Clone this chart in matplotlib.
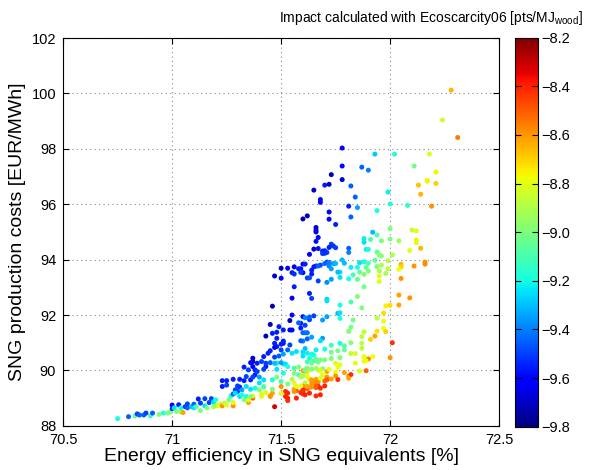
import matplotlib
matplotlib.use('Agg')
import matplotlib.pyplot as plt
from matplotlib.ticker import FuncFormatter
import numpy as np

plt.rcParams['font.family'] = ['Liberation Sans', 'DejaVu Sans']
plt.rcParams['mathtext.fontset'] = 'custom'
plt.rcParams['mathtext.rm'] = 'Liberation Sans'

# energy efficiency [%], SNG cost [EUR/MWh], impact [pts/MJ_wood]
eff = [72.28, 72.24, 72.31, 71.78, 71.93, 72.02, 72.18, 71.78, 71.87, 71.90,
       72.11, 72.21, 71.73, 71.78, 72.17, 71.70, 71.72, 71.82, 72.13, 72.17,
       72.21, 71.65, 71.84, 71.99, 72.14, 71.68, 71.68, 71.81, 71.85, 72.00,
       72.08, 72.19, 71.94, 71.72, 71.62, 71.60, 71.72, 71.82, 71.75, 71.66,
       71.66, 71.66, 71.67, 71.66, 71.92, 71.94, 71.88, 71.91, 71.96, 72.00,
       72.10, 72.12, 72.00, 72.04, 72.12, 72.12, 71.88, 71.73, 71.74, 71.72,
       71.65, 71.67, 71.75, 71.81, 71.94, 71.89, 71.90, 72.14, 72.09, 71.69,
       71.70, 71.71, 71.69, 71.70, 71.63, 71.81, 71.95, 71.96, 72.01, 71.93,
       71.99, 71.78, 72.16, 72.16, 72.11, 72.05, 72.05, 72.04, 72.05, 71.60,
       71.59, 71.60, 71.65, 71.66, 71.68, 71.71, 71.72, 71.74, 71.73, 71.64,
       71.64, 71.67, 71.73, 71.71, 71.63, 71.64, 71.71, 71.77, 71.77, 71.79,
       71.82, 71.85, 71.86, 71.88, 71.90, 71.89, 71.86, 71.83, 71.81, 71.88,
       71.90, 71.94, 71.95, 71.96, 71.98, 71.99, 71.95, 71.95, 71.85, 71.88,
       71.85, 72.04, 72.09, 71.71, 71.77, 71.82, 71.87, 71.98, 72.00, 72.04,
       71.97, 71.76, 71.77, 71.77, 71.94, 71.97, 71.97, 71.83, 71.60, 71.65,
       71.63, 71.69, 71.71, 71.59, 71.61, 71.59, 71.60, 71.61, 71.62, 71.82,
       71.81, 71.88, 71.94, 71.93, 71.91, 71.87, 72.01, 71.62, 71.60, 71.69,
       71.87, 71.82, 71.73, 71.77, 71.79, 71.76, 71.79, 71.70, 71.66, 71.61,
       71.60, 71.62, 71.64, 71.65, 71.60, 71.73, 71.87, 71.82, 71.84, 71.92,
       71.88, 71.90, 71.88, 71.89, 72.00, 71.77, 71.73, 71.68, 71.70, 71.65,
       71.67, 71.63, 71.62, 71.64, 71.75, 71.77, 71.76, 71.84, 71.69, 71.67,
       71.62, 71.61, 71.60, 71.62, 71.71, 71.75, 71.79, 71.86, 71.89, 71.60,
       71.69, 71.75, 71.81, 71.82, 71.81, 71.73, 71.76, 71.63, 71.64, 71.66,
       71.67, 71.70, 71.68, 71.65, 71.64, 71.61, 71.60, 71.62, 71.66, 71.67,
       71.60, 71.60, 71.60,
       70.75, 70.80, 70.83, 70.84, 70.85, 70.87, 70.88, 70.90, 70.91, 70.94,
       70.96, 70.98, 70.99, 71.00, 71.00, 71.01, 71.02, 71.03, 71.04, 71.05,
       71.04, 71.06, 71.07, 71.07, 71.09, 71.10, 71.10, 71.11, 71.12, 71.13,
       71.13, 71.15, 71.15, 71.16, 71.17, 71.18, 71.19, 71.19, 71.20, 71.20,
       71.21, 71.22, 71.23, 71.23, 71.25, 71.25, 71.23, 71.24, 71.25, 71.26,
       71.27, 71.28, 71.28, 71.28, 71.28, 71.29, 71.30, 71.31, 71.31, 71.32,
       71.33, 71.33, 71.34, 71.35, 71.35, 71.37, 71.37, 71.36, 71.36, 71.37,
       71.37, 71.38, 71.38, 71.39, 71.40, 71.40, 71.40, 71.41, 71.42, 71.42,
       71.43, 71.43, 71.43, 71.44, 71.45, 71.45, 71.46, 71.46, 71.46, 71.47,
       71.47, 71.48, 71.48, 71.48, 71.49, 71.50, 71.50, 71.51, 71.51, 71.52,
       71.52, 71.53, 71.53, 71.54, 71.54, 71.55, 71.55, 71.55, 71.56, 71.56,
       71.56, 71.57, 71.58,
       71.50, 71.53, 71.56, 71.58, 71.47, 71.50, 71.55, 71.56, 71.56,
       71.61, 71.59, 71.62, 71.63, 71.67, 71.70, 71.72, 71.75, 71.76,
       71.58, 71.61, 71.63, 71.55, 71.48, 71.48, 71.51, 71.59, 71.64, 71.68,
       71.51, 71.47, 71.54, 71.53, 71.50, 71.45, 71.47, 71.49, 71.51, 71.55,
       71.57, 71.66, 71.37, 71.36, 71.39, 71.41, 71.43, 71.45, 71.47, 71.50,
       71.52, 71.53, 71.56, 71.58, 71.61, 71.64, 71.66, 71.68, 71.72, 71.33,
       71.35, 71.42, 71.48, 71.51, 71.59, 71.62, 71.71, 71.71, 71.31, 71.34,
       71.37, 71.42, 71.46, 71.50, 71.53, 71.57, 71.59, 71.62, 71.64, 71.66,
       71.68, 71.70, 71.30, 71.34, 71.38, 71.42, 71.46, 71.50, 71.56, 71.59,
       71.61, 71.63, 71.66, 71.68, 71.29, 71.32, 71.36, 71.41, 71.45, 71.53,
       71.57, 71.98, 71.88]

cost = [100.12, 99.04, 98.41, 98.03, 97.81, 97.81, 97.81, 97.38, 97.34, 97.23,
        97.38, 97.16, 97.07, 96.89, 96.87, 96.69, 96.72, 96.66, 96.69, 96.83,
        96.75, 96.51, 96.26, 96.44, 96.36, 96.17, 96.07, 95.93, 95.88, 96.01,
        95.96, 95.93, 95.77, 95.72, 95.58, 95.47, 95.46, 95.54, 95.27, 95.16,
        95.06, 95.00, 94.80, 94.66, 94.99, 94.89, 94.76, 94.73, 94.68, 95.12,
        95.07, 95.04, 94.74, 94.68, 94.71, 94.61, 94.63, 94.56, 94.49, 94.44,
        94.38, 94.40, 94.43, 94.41, 94.27, 94.37, 94.37, 94.41, 94.33, 94.31,
        94.32, 94.26, 94.22, 94.23, 94.19, 94.26, 94.17, 94.13, 94.17, 93.98,
        93.96, 93.99, 93.91, 93.84, 93.77, 93.83, 93.74, 93.65, 93.32, 93.84,
        93.67, 93.53, 93.74, 93.77, 93.80, 93.91, 93.77, 93.86, 93.67, 93.62,
        93.48, 93.23, 93.29, 93.18, 92.78, 92.60, 92.57, 93.55, 93.36, 93.87,
        93.72, 93.72, 93.89, 93.92, 93.87, 93.72, 93.55, 93.45, 93.31, 93.47,
        93.59, 93.75, 93.59, 93.80, 93.50, 93.67, 93.41, 93.21, 93.29, 93.02,
        92.67, 92.72, 92.62, 92.51, 92.36, 92.47, 92.26, 92.33, 92.35, 92.36,
        92.07, 92.06, 92.08, 91.88, 91.89, 91.78, 91.52, 91.82, 91.94, 91.97,
        91.83, 91.82, 91.94, 91.70, 91.63, 91.53, 91.36, 91.36, 91.36, 91.56,
        91.41, 91.39, 91.42, 91.24, 91.12, 91.22, 91.00, 91.14, 91.06, 91.16,
        90.98, 91.00, 90.91, 90.98, 90.89, 90.71, 90.74, 90.77, 90.74, 90.79,
        90.67, 90.62, 90.59, 90.55, 90.52, 90.66, 90.80, 90.61, 90.61, 90.50,
        90.48, 90.41, 90.33, 90.35, 90.46, 90.46, 90.43, 90.38, 90.38, 90.34,
        90.30, 90.44, 90.31, 90.26, 90.26, 90.20, 90.12, 90.26, 90.06, 90.02,
        90.08, 89.95, 89.99, 89.96, 89.96, 89.94, 89.92, 89.98, 89.99, 89.80,
        89.84, 89.80, 89.80, 89.85, 89.72, 89.69, 89.67, 89.68, 89.66, 89.68,
        89.59, 89.62, 89.72, 89.58, 89.53, 89.55, 89.43, 89.34, 89.38, 89.43,
        89.25, 89.15, 89.30,
        88.26, 88.33, 88.36, 88.43, 88.39, 88.39, 88.46, 88.36, 88.46, 88.41,
        88.46, 88.46, 88.50, 88.62, 88.75, 88.65, 88.52, 88.76, 88.50, 88.48,
        88.65, 88.69, 88.65, 88.79, 88.69, 88.78, 88.65, 88.69, 88.97, 88.82,
        88.55, 88.72, 88.98, 88.65, 88.84, 88.98, 88.69, 88.86, 88.94, 88.73,
        88.72, 88.79, 88.72, 89.63, 89.63, 89.47, 89.42, 88.82, 88.75, 88.94,
        89.08, 89.15, 89.68, 88.72, 88.84, 89.30, 89.24, 89.06, 89.40, 89.30,
        89.63, 88.94, 89.06, 88.84, 88.94, 89.00, 89.08, 89.66, 89.32, 90.32,
        90.14, 90.02, 89.84, 89.96, 89.76, 89.55, 89.30, 89.15, 90.50, 89.42,
        89.20, 91.24, 90.14, 90.62, 91.66, 89.06, 89.18, 92.32, 91.34, 88.69,
        90.98, 90.26, 90.86, 89.76, 91.58, 89.42, 90.95, 90.23, 91.06, 89.06,
        89.24, 88.91, 89.18, 91.80, 91.46, 92.00, 92.61, 89.68, 89.54, 89.32,
        89.90, 89.27, 89.84,
        93.69, 93.69, 93.74, 93.67, 93.41, 93.33, 93.53, 93.48, 93.02,
        93.84, 93.54, 93.34, 93.34, 93.77, 93.86, 93.90, 93.86, 93.55,
        91.72, 91.90, 91.93, 91.46, 91.38, 91.16, 91.46, 91.07, 91.20, 91.07,
        90.98, 90.83, 90.92, 90.74, 90.74, 90.71, 90.48, 90.52, 90.59, 90.62,
        90.68, 90.40, 90.44, 90.28, 90.26, 90.32, 90.26, 90.28, 90.26, 90.28,
        90.23, 90.14, 90.08, 90.12, 90.02, 90.04, 90.08, 89.99, 90.04, 90.12,
        90.02, 90.04, 90.04, 89.90, 89.76, 89.78, 89.76, 89.66, 89.68, 89.78,
        89.76, 89.66, 89.66, 89.60, 89.51, 89.42, 89.44, 89.42, 89.40, 89.44,
        89.36, 89.44, 89.44, 89.42, 89.36, 89.40, 89.32, 89.18, 89.24, 89.20,
        89.12, 89.18, 89.08, 89.12, 89.18, 89.12, 89.06, 89.06, 89.08, 89.00,
        89.00, 91.40, 90.50]

impact = [-8.65, -8.85, -8.55, -9.62, -9.28, -9.18, -8.82, -9.60, -9.45, -9.40,
          -9.02, -8.75, -9.72, -9.68, -8.78, -9.55, -9.70, -9.45, -8.68, -8.75,
          -8.70, -9.70, -9.45, -9.22, -8.65, -9.65, -9.62, -9.55, -9.35, -9.18,
          -9.15, -8.60, -9.20, -9.60, -9.72, -9.72, -9.60, -9.45, -9.55, -9.70,
          -9.68, -9.65, -9.60, -9.58, -9.30, -9.08, -9.22, -9.10, -9.00, -9.00,
          -8.85, -8.80, -9.00, -8.95, -8.75, -8.80, -9.25, -9.50, -9.52, -9.55,
          -9.68, -9.58, -9.50, -9.45, -9.05, -9.22, -9.20, -8.65, -8.80, -9.55,
          -9.55, -9.50, -9.50, -9.52, -9.60, -9.40, -9.00, -8.98, -8.90, -9.05,
          -8.90, -9.30, -8.60, -8.58, -8.60, -8.65, -8.70, -8.78, -8.60, -9.62,
          -9.60, -9.58, -9.55, -9.55, -9.50, -9.50, -9.40, -9.35, -9.35, -9.55,
          -9.55, -9.50, -9.35, -9.38, -9.55, -9.50, -9.28, -9.25, -9.25, -9.30,
          -9.22, -9.20, -9.25, -9.20, -9.10, -9.05, -9.05, -9.12, -9.20, -9.00,
          -9.00, -9.00, -8.92, -8.90, -8.92, -8.88, -8.80, -8.82, -9.05, -9.02,
          -9.00, -8.62, -8.60, -9.25, -9.20, -9.10, -9.00, -8.75, -8.72, -8.62,
          -8.72, -9.30, -9.25, -9.20, -8.88, -8.78, -8.78, -9.02, -9.58, -9.50,
          -9.50, -9.35, -9.35, -9.55, -9.50, -9.55, -9.45, -9.42, -9.42, -9.02,
          -9.00, -8.88, -8.72, -8.62, -8.70, -8.88, -8.42, -9.45, -9.40, -9.35,
          -8.88, -9.00, -9.12, -9.20, -9.08, -9.02, -9.05, -9.20, -9.22, -9.30,
          -9.25, -9.22, -9.20, -9.20, -9.25, -9.02, -8.88, -8.88, -8.82, -8.78,
          -8.80, -8.55, -8.80, -8.78, -8.60, -9.00, -9.00, -9.02, -9.00, -9.10,
          -9.02, -9.20, -9.12, -9.02, -8.80, -8.80, -8.78, -8.80, -9.00, -8.92,
          -9.00, -9.00, -8.62, -8.72, -8.62, -8.78, -8.62, -8.80, -8.50, -8.92,
          -8.80, -8.60, -8.60, -8.42, -8.62, -8.62, -8.42, -8.72, -8.62, -8.62,
          -8.60, -8.52, -8.80, -8.60, -8.60, -8.90, -8.60, -8.50, -8.50, -8.42,
          -8.40, -8.40, -8.42,
          -9.20, -9.45, -9.05, -9.50, -9.45, -9.45, -9.50, -9.12, -9.45, -9.00,
          -9.20, -9.00, -9.00, -9.50, -9.60, -9.25, -9.00, -9.55, -8.90, -8.62,
          -9.20, -9.50, -9.45, -9.50, -9.30, -9.45, -9.25, -9.10, -9.55, -9.50,
          -9.00, -9.25, -9.50, -9.00, -9.50, -9.50, -8.90, -9.25, -9.20, -9.00,
          -8.80, -8.80, -8.60, -9.55, -9.55, -9.50, -9.55, -8.88, -8.80, -9.00,
          -9.20, -9.45, -9.55, -8.60, -8.80, -9.50, -9.50, -9.25, -9.55, -9.35,
          -9.55, -9.00, -9.20, -8.62, -8.80, -8.50, -8.80, -9.55, -9.25, -9.72,
          -9.60, -9.55, -9.55, -9.50, -9.35, -9.25, -9.00, -8.80, -9.55, -9.00,
          -8.80, -9.72, -9.55, -9.55, -9.72, -8.62, -8.62, -9.72, -9.55, -8.32,
          -9.55, -9.22, -9.55, -9.00, -9.55, -8.60, -9.55, -9.22, -9.55, -8.40,
          -8.42, -8.42, -8.40, -9.72, -9.60, -9.60, -9.60, -8.90, -8.80, -8.62,
          -9.00, -8.50, -9.10,
          -9.72, -9.62, -9.60, -9.55, -9.72, -9.60, -9.55, -9.52, -9.55,
          -9.55, -9.50, -9.50, -9.48, -9.45, -9.45, -9.40, -9.30, -9.30,
          -9.45, -9.40, -9.45, -9.60, -9.55, -9.55, -9.55, -9.45, -9.35, -9.25,
          -9.55, -9.60, -9.50, -9.45, -9.50, -9.55, -9.50, -9.45, -9.35, -9.25,
          -9.25, -9.05, -9.70, -9.60, -9.55, -9.50, -9.50, -9.45, -9.30, -9.35,
          -9.25, -9.20, -9.10, -9.00, -9.02, -9.00, -8.92, -8.80, -8.80, -9.55,
          -9.50, -9.50, -9.25, -9.20, -8.90, -8.80, -8.60, -8.50, -9.55, -9.50,
          -9.50, -9.25, -9.20, -9.10, -9.00, -8.80, -8.78, -8.62, -8.60, -8.50,
          -8.42, -8.40, -9.50, -9.25, -9.20, -9.10, -9.00, -8.80, -8.60, -8.42,
          -8.40, -8.40, -8.42, -8.40, -9.25, -9.20, -9.00, -8.80, -8.60, -8.40,
          -8.40, -8.70, -8.78]

fig = plt.figure(figsize=(5.9, 4.7), dpi=100)
ax = fig.add_axes([0.107, 0.094, 0.739, 0.825])
cax = fig.add_axes([0.873, 0.092, 0.039, 0.828])

sc = ax.scatter(eff, cost, c=impact, cmap='jet', vmin=-9.8, vmax=-8.2,
                s=13, linewidths=0, zorder=3)

ax.set_xlim(70.5, 72.5)
ax.set_ylim(88, 102)
ax.set_xticks(np.arange(70.5, 72.51, 0.5))
ax.set_yticks(np.arange(88, 102.1, 2))
ax.xaxis.set_major_formatter(FuncFormatter(lambda v, p: f'{v:g}'))
ax.yaxis.set_major_formatter(FuncFormatter(lambda v, p: f'{v:g}'))
ax.grid(True, linestyle=(0, (1, 3)), color='#888888', linewidth=0.8)
ax.tick_params(direction='in', top=True, right=True, labelsize=10.5, length=4)
ax.tick_params(axis='x', pad=5)
ax.tick_params(axis='y', pad=5)
for sp in ax.spines.values():
    sp.set_linewidth(0.8)

ax.set_xlabel('Energy efficiency in SNG equivalents [%]', fontsize=14, labelpad=1)
ax.set_ylabel('SNG production costs [EUR/MWh]', fontsize=14, labelpad=4)

cb = fig.colorbar(sc, cax=cax)
cb.set_ticks(np.arange(-9.8, -8.19, 0.2))
cb.ax.yaxis.set_major_formatter(FuncFormatter(lambda v, p: f'{v:.1f}'.replace('-', '\u2212')))
cb.ax.tick_params(direction='in', left=True, right=True, labelsize=10.5, length=4, pad=2)
cb.outline.set_linewidth(0.8)

fig.text(0.988, 0.962, r'Impact calculated with Ecoscarcity06 [pts/MJ$_{\mathrm{wood}}$]',
         ha='right', va='center', fontsize=10)

fig.savefig('out.png', dpi=100, facecolor='white')
